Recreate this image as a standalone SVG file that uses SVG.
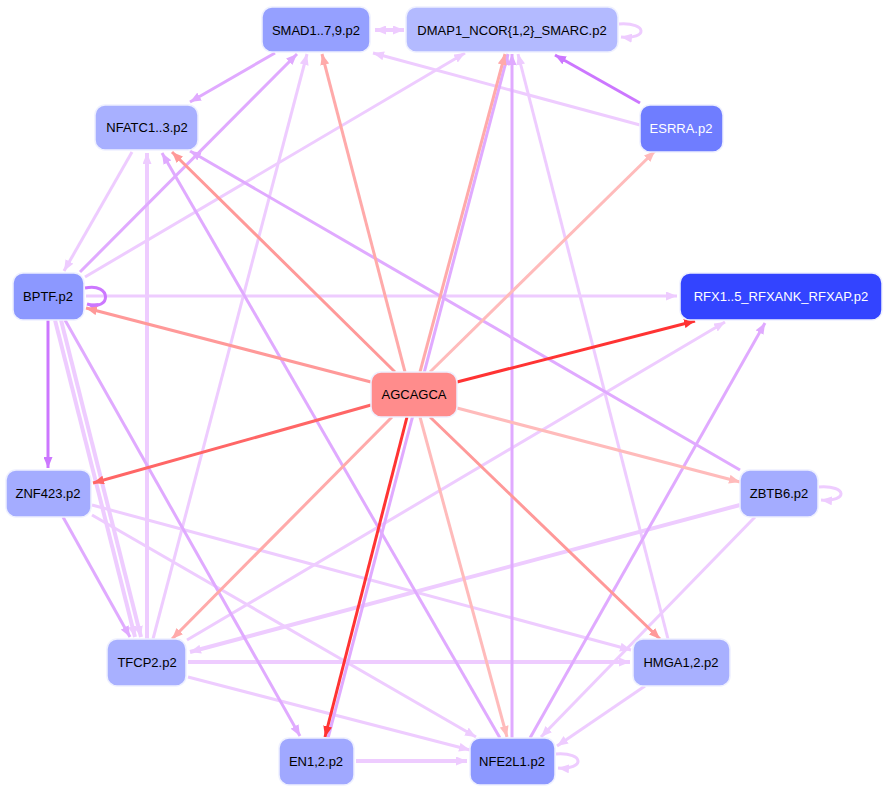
<svg xmlns="http://www.w3.org/2000/svg" width="887" height="790" viewBox="0 0 887 790">
<style>
.n rect{stroke:#eef0ff;stroke-width:1.5}
.n text{font-family:"Liberation Sans",Arial,sans-serif;font-size:13px;text-anchor:middle;dominant-baseline:central;fill:#000}
#edges line,#edges path{fill:none;stroke-width:3}
.p1{stroke:#eeccff}.p2{stroke:#e0aaff}.p3{stroke:#cc77ff}
.r1{stroke:#ffbbbb}.r2{stroke:#ffaaaa}.r3{stroke:#ff9999}.r4{stroke:#ff6666}.r5{stroke:#ff3333}
</style>
<defs>
<marker id="mp1" markerUnits="userSpaceOnUse" markerWidth="11" markerHeight="9" refX="11" refY="4.5" orient="auto-start-reverse"><path d="M0,0L11,4.5L0,9z" fill="#eeccff"/></marker>
<marker id="mp2" markerUnits="userSpaceOnUse" markerWidth="11" markerHeight="9" refX="11" refY="4.5" orient="auto"><path d="M0,0L11,4.5L0,9z" fill="#e0aaff"/></marker>
<marker id="mp3" markerUnits="userSpaceOnUse" markerWidth="11" markerHeight="9" refX="11" refY="4.5" orient="auto"><path d="M0,0L11,4.5L0,9z" fill="#cc77ff"/></marker>
<marker id="mr1" markerUnits="userSpaceOnUse" markerWidth="11" markerHeight="9" refX="11" refY="4.5" orient="auto"><path d="M0,0L11,4.5L0,9z" fill="#ffbbbb"/></marker>
<marker id="mr2" markerUnits="userSpaceOnUse" markerWidth="11" markerHeight="9" refX="11" refY="4.5" orient="auto"><path d="M0,0L11,4.5L0,9z" fill="#ffaaaa"/></marker>
<marker id="mr3" markerUnits="userSpaceOnUse" markerWidth="11" markerHeight="9" refX="11" refY="4.5" orient="auto"><path d="M0,0L11,4.5L0,9z" fill="#ff9999"/></marker>
<marker id="mr4" markerUnits="userSpaceOnUse" markerWidth="11" markerHeight="9" refX="11" refY="4.5" orient="auto"><path d="M0,0L11,4.5L0,9z" fill="#ff6666"/></marker>
<marker id="mr5" markerUnits="userSpaceOnUse" markerWidth="11" markerHeight="9" refX="11" refY="4.5" orient="auto"><path d="M0,0L11,4.5L0,9z" fill="#ff3333"/></marker>
</defs>
<g id="edges">
<line class="p1" x1="640" y1="125" x2="373" y2="53" marker-end="url(#mp1)"/>
<line class="p1" x1="85" y1="277" x2="465" y2="53" marker-end="url(#mp1)"/>
<line class="p1" x1="132" y1="152" x2="64" y2="271" marker-end="url(#mp1)"/>
<line class="p1" x1="147" y1="639" x2="147" y2="153" marker-end="url(#mp1)" style="stroke-width:4"/>
<line class="p1" x1="153" y1="639" x2="307" y2="54" marker-end="url(#mp1)"/>
<line class="p1" x1="668" y1="639" x2="518" y2="54" marker-end="url(#mp1)"/>
<line class="p1" x1="86" y1="296" x2="677" y2="296" marker-end="url(#mp1)"/>
<line class="p1" x1="55" y1="320" x2="135" y2="637" marker-end="url(#mp1)" style="stroke-width:4"/>
<line class="p1" x1="61" y1="320" x2="141" y2="637" marker-end="url(#mp1)" style="stroke-width:4"/>
<line class="p1" x1="92" y1="505" x2="631" y2="650" marker-end="url(#mp1)"/>
<line class="p1" x1="92" y1="515" x2="476" y2="737" marker-end="url(#mp1)"/>
<line class="p1" x1="187" y1="640" x2="725" y2="322" marker-end="url(#mp1)"/>
<line class="p1" x1="740" y1="505" x2="190" y2="652" marker-end="url(#mp1)" style="stroke-width:4"/>
<line class="p1" x1="755" y1="517" x2="541" y2="737" marker-end="url(#mp1)"/>
<line class="p1" x1="188" y1="662" x2="630" y2="662" marker-end="url(#mp1)" style="stroke-width:4"/>
<line class="p1" x1="188" y1="677" x2="470" y2="750" marker-end="url(#mp1)"/>
<line class="p1" x1="645" y1="686" x2="557" y2="746" marker-end="url(#mp1)"/>
<line class="p1" x1="356" y1="761" x2="467" y2="761" marker-end="url(#mp1)" style="stroke-width:4"/>
<line class="p1" x1="375" y1="30" x2="404" y2="30" marker-start="url(#mp1)" marker-end="url(#mp1)" style="stroke-width:4"/>
<line class="p2" x1="275" y1="53" x2="190" y2="102" marker-end="url(#mp2)"/>
<line class="p2" x1="740" y1="470" x2="190" y2="151" marker-end="url(#mp2)"/>
<line class="p2" x1="80" y1="272" x2="297" y2="54" marker-end="url(#mp2)"/>
<line class="p2" x1="500" y1="738" x2="162" y2="153" marker-end="url(#mp2)"/>
<line class="p2" x1="328" y1="738" x2="508" y2="54" marker-end="url(#mp2)"/>
<line class="p2" x1="512" y1="738" x2="512" y2="54" marker-end="url(#mp2)"/>
<line class="p2" x1="65" y1="320" x2="300" y2="736" marker-end="url(#mp2)"/>
<line class="p2" x1="63" y1="517" x2="130" y2="637" marker-end="url(#mp2)"/>
<line class="p2" x1="530" y1="738" x2="765" y2="323" marker-end="url(#mp2)"/>
<line class="p3" x1="640" y1="103" x2="555" y2="55" marker-end="url(#mp3)"/>
<line class="p3" x1="48" y1="320" x2="48" y2="468" marker-end="url(#mp3)"/>
<path class="p3" d="M85,288 C112,282 112,312 87,304" marker-end="url(#mp3)"/>
<path class="p1" d="M619,24 C648,22 648,40 621,37" marker-end="url(#mp1)"/>
<path class="p1" d="M819,487 C848,485 848,502 821,500" marker-end="url(#mp1)"/>
<path class="p1" d="M556,754 C585,752 585,770 558,768" marker-end="url(#mp1)"/>
<line class="r2" x1="405" y1="372" x2="322" y2="54" marker-end="url(#mr2)"/>
<line class="r2" x1="420" y1="372" x2="505" y2="54" marker-end="url(#mr2)"/>
<line class="r1" x1="430" y1="372" x2="655" y2="151" marker-end="url(#mr1)"/>
<line class="r3" x1="395" y1="372" x2="172" y2="152" marker-end="url(#mr3)"/>
<line class="r3" x1="371" y1="382" x2="86" y2="308" marker-end="url(#mr3)"/>
<line class="r5" x1="457" y1="382" x2="695" y2="321" marker-end="url(#mr5)"/>
<line class="r4" x1="371" y1="405" x2="93" y2="483" marker-end="url(#mr4)"/>
<line class="r1" x1="457" y1="408" x2="740" y2="482" marker-end="url(#mr1)"/>
<line class="r2" x1="392" y1="417" x2="172" y2="639" marker-end="url(#mr2)"/>
<line class="r3" x1="430" y1="417" x2="660" y2="639" marker-end="url(#mr3)"/>
<line class="r5" x1="407" y1="417" x2="325" y2="737" marker-end="url(#mr5)"/>
<line class="r1" x1="420" y1="417" x2="507" y2="737" marker-end="url(#mr1)"/>
</g>
<g id="SMAD" class="n"><rect x="262" y="7" width="108" height="45" rx="10" fill="#95a0ff"/><text x="316" y="30">SMAD1..7,9.p2</text></g>
<g id="DMAP" class="n"><rect x="406" y="7" width="212" height="45" rx="10" fill="#b3baff"/><text x="512" y="30">DMAP1_NCOR{1,2}_SMARC.p2</text></g>
<g id="NFATC" class="n"><rect x="95" y="105" width="103" height="45" rx="10" fill="#a8b0ff"/><text x="147" y="127">NFATC1..3.p2</text></g>
<g id="ESRRA" class="n"><rect x="640" y="105" width="83" height="47" rx="10" fill="#6f7dff"/><text x="681" y="128" style="fill:#fff">ESRRA.p2</text></g>
<g id="BPTF" class="n"><rect x="13" y="273" width="71" height="47" rx="10" fill="#8c98ff"/><text x="48" y="296">BPTF.p2</text></g>
<g id="RFX" class="n"><rect x="680" y="273" width="202" height="47" rx="10" fill="#3344ff"/><text x="781" y="296" style="fill:#fff">RFX1..5_RFXANK_RFXAP.p2</text></g>
<g id="AGCAGCA" class="n"><rect x="371" y="372" width="86" height="45" rx="10" fill="#ff8c8c"/><text x="414" y="394">AGCAGCA</text></g>
<g id="ZNF423" class="n"><rect x="6" y="470" width="85" height="47" rx="10" fill="#a4acff"/><text x="48" y="493">ZNF423.p2</text></g>
<g id="ZBTB6" class="n"><rect x="740" y="470" width="78" height="47" rx="10" fill="#a4acff"/><text x="779" y="493">ZBTB6.p2</text></g>
<g id="TFCP2" class="n"><rect x="107" y="639" width="79" height="47" rx="10" fill="#a8b0ff"/><text x="147" y="662">TFCP2.p2</text></g>
<g id="HMGA" class="n"><rect x="633" y="639" width="97" height="47" rx="10" fill="#a8b0ff"/><text x="681" y="662">HMGA1,2.p2</text></g>
<g id="EN1" class="n"><rect x="279" y="738" width="75" height="47" rx="10" fill="#a0a8ff"/><text x="316" y="761">EN1,2.p2</text></g>
<g id="NFE2L1" class="n"><rect x="470" y="738" width="85" height="47" rx="10" fill="#8c98ff"/><text x="512" y="761">NFE2L1.p2</text></g>
</svg>
